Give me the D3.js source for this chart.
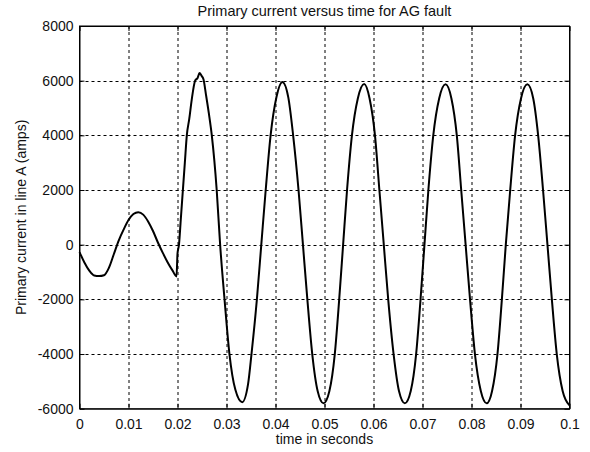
<!DOCTYPE html>
<html>
<head>
<meta charset="utf-8">
<script src="https://d3js.org/d3.v7.min.js"></script>
<style>
	body { margin: 0; background: #fff; }
	svg { display: block; font-family: Arial, "Liberation Sans", sans-serif; }
</style>
</head>
<body>
<svg width="590" height="452"></svg>
<script>
// tick labels
var X_TICKS = [0, 0.01, 0.02, 0.03, 0.04, 0.05, 0.06, 0.07, 0.08, 0.09, 0.1];
var Y_TICKS = [-6000, -4000, -2000, 0, 2000, 4000, 6000, 8000];

// samples (seconds, amps)
var timeS = [
	0, 0.001, 0.002, 0.003, 0.004, 0.005, 0.006, 0.007, 0.008, 0.009,
	0.010, 0.011, 0.012, 0.013, 0.014, 0.015, 0.016, 0.017, 0.018, 0.019, 0.0198,
	0.0200, 0.0203, 0.0207, 0.0211, 0.0215, 0.0219, 0.0224, 0.0229, 0.0236,
	0.0241, 0.0245, 0.0249, 0.0253, 0.0258, 0.0264, 0.0270, 0.0280, 0.0287,
	0.0296, 0.0306, 0.0318, 0.0332, 0.0344, 0.0351, 0.0362, 0.0371, 0.0380,
	0.0390, 0.0402, 0.0414, 0.0426, 0.0436, 0.0447, 0.0456, 0.0465, 0.0475,
	0.0486, 0.0498, 0.0510, 0.0521, 0.0530, 0.0538, 0.0546, 0.0556, 0.0568,
	0.0581, 0.0592, 0.0603, 0.0612, 0.0621, 0.0630, 0.0641, 0.0652, 0.0664,
	0.0676, 0.0687, 0.0696, 0.0704, 0.0712, 0.0722, 0.0734, 0.0747, 0.0759,
	0.0770, 0.0779, 0.0788, 0.0797, 0.0807, 0.0819, 0.0831, 0.0842, 0.0853,
	0.0862, 0.0870, 0.0879, 0.0889, 0.0901, 0.0914, 0.0926, 0.0936, 0.0946,
	0.0955, 0.0964, 0.0974, 0.0986, 0.1000
];
var currentA = [
	-270, -650, -950, -1130, -1150, -1120, -850, -350, 150, 550,
	900, 1120, 1190, 1100, 850, 500, 80, -300, -650, -950, -1160,
	-330, 0, 1000, 2000, 3000, 4000, 4600, 5300, 6000,
	6100, 6280, 6180, 6050, 5500, 4800, 4000, 2000, 0,
	-2000, -4000, -5300, -5760, -5100, -4000, -2000, 0, 2000,
	4000, 5400, 5950, 5400, 4000, 2000, 0, -2000, -4000,
	-5350, -5800, -5350, -4000, -2000, 0, 2000, 4000, 5350,
	5880, 5350, 4000, 2000, 0, -2000, -4000, -5350, -5800,
	-5350, -4000, -2000, 0, 2000, 4000, 5350, 5870, 5350,
	4000, 2000, 0, -2000, -4000, -5350, -5800, -5350, -4000,
	-2000, 0, 2000, 4000, 5350, 5870, 5350, 4000, 2000,
	0, -2000, -4000, -5350, -5880
];

var TITLE = "Primary current versus time for AG fault";
var X_LABEL = "time in seconds";
var Y_LABEL = "Primary current in line A (amps)";

var svg = d3.select("svg"),
	margin = { top: 26, right: 20.5, bottom: 43.3, left: 79.5 },
	width = +svg.attr("width") - margin.left - margin.right,
	height = +svg.attr("height") - margin.top - margin.bottom;

svg.append("rect").attr("width", 590).attr("height", 452).attr("fill", "#fff");

var g = svg.append("g").attr("transform", "translate(" + margin.left + "," + margin.top + ")");

var x = d3.scaleLinear().domain([0, 0.1]).range([0, width]);
var y = d3.scaleLinear().domain([-6000, 8000]).range([height, 0]);

// plain hyphen for negatives, like the original
function fmt(d) { return String(d); }

// grid
g.append("g").selectAll("line").data(X_TICKS.slice(1, -1)).enter().append("line")
	.attr("x1", function(d) { return Math.round(x(d)) + 0.5; })
	.attr("x2", function(d) { return Math.round(x(d)) + 0.5; })
	.attr("y1", 0).attr("y2", height)
	.attr("stroke", "#000").attr("stroke-dasharray", "3,3");
g.append("g").selectAll("line").data(Y_TICKS.slice(1)).enter().append("line")
	.attr("y1", function(d) { return Math.round(y(d)) + 0.5; })
	.attr("y2", function(d) { return Math.round(y(d)) + 0.5; })
	.attr("x1", 0).attr("x2", width)
	.attr("stroke", "#000").attr("stroke-dasharray", "3,3");

// axes
g.append("g").attr("transform", "translate(0," + height + ")")
	.call(d3.axisBottom(x).tickValues(X_TICKS).tickFormat(fmt).tickSizeInner(-5).tickSizeOuter(0).tickPadding(10));
g.append("g")
	.call(d3.axisLeft(y).tickValues(Y_TICKS).tickFormat(fmt).tickSizeInner(-5).tickSizeOuter(0).tickPadding(6));
g.append("g").attr("transform", "translate(" + width + ",0)")
	.call(d3.axisRight(y).tickValues(Y_TICKS).tickFormat("").tickSizeInner(-5).tickSizeOuter(0));
g.append("g")
	.call(d3.axisTop(x).tickValues(X_TICKS).tickFormat("").tickSizeInner(-5).tickSizeOuter(0));

g.selectAll(".domain").attr("stroke", "#000");
g.selectAll(".tick line").attr("stroke", "#000");
g.selectAll(".tick text").attr("fill", "#111").attr("font-size", "14px")
	.attr("font-family", "Arial, 'Liberation Sans', sans-serif");

// trace
var pts = timeS.map(function(t, i) { return [t, currentA[i]]; });
var line = d3.line()
	.x(function(d) { return x(d[0]); })
	.y(function(d) { return y(d[1]); })
	.curve(d3.curveMonotoneX);

g.append("path")
	.datum(pts)
	.attr("fill", "none")
	.attr("stroke", "#000")
	.attr("stroke-width", 2)
	.attr("stroke-linejoin", "round")
	.attr("d", line);

// box
g.append("rect").attr("x", 0).attr("y", 0).attr("width", width).attr("height", height)
	.attr("fill", "none").attr("stroke", "#000").attr("stroke-width", 1);

// labels
svg.append("text").attr("x", margin.left + width / 2).attr("y", 16)
	.attr("text-anchor", "middle").attr("font-size", "14.5px").attr("fill", "#111").text(TITLE);
svg.append("text").attr("x", margin.left + width / 2).attr("y", 444)
	.attr("text-anchor", "middle").attr("font-size", "14px").attr("fill", "#111").text(X_LABEL);
svg.append("text").attr("transform", "translate(26," + (margin.top + height / 2) + ") rotate(-90)")
	.attr("text-anchor", "middle").attr("font-size", "14px").attr("fill", "#111").text(Y_LABEL);
</script>
</body>
</html>
